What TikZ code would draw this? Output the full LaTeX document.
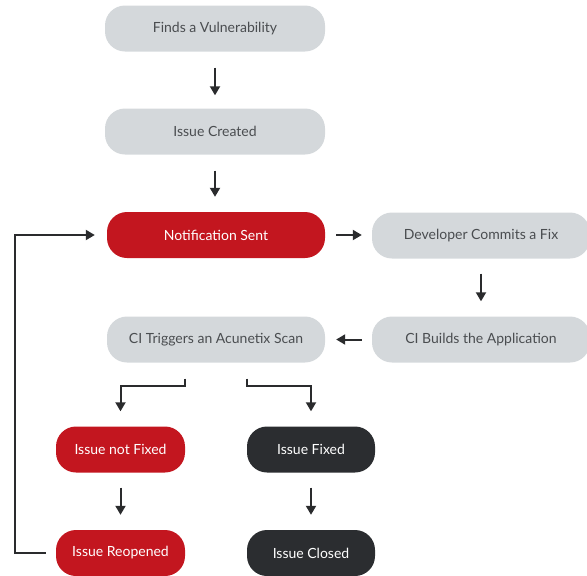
\documentclass[tikz,border=0pt]{standalone}
\usepackage{fontspec}
\setmainfont{Lato}
\usetikzlibrary{arrows.meta}
\definecolor{boxgray}{HTML}{D4D8DB}
\definecolor{txtgray}{HTML}{4A4D50}
\definecolor{boxred}{HTML}{C3161F}
\definecolor{boxdark}{HTML}{2B2D30}
\definecolor{arrowc}{HTML}{2A2B2D}
\tikzset{
  stepgray/.style={fill=boxgray, text=txtgray, rounded corners=20pt, minimum height=46pt, inner sep=0pt, font=\fontsize{14}{16}\selectfont},
  stepred/.style={stepgray, fill=boxred, text=white},
  stepdark/.style={stepgray, fill=boxdark, text=white},
  arr/.style={draw=arrowc, line width=2pt, -{Triangle[length=9pt,width=10pt]}},
}
\begin{document}
\begin{tikzpicture}[x=1pt,y=-1pt]
\useasboundingbox (0,0) rectangle (587,576);
\node[stepgray, minimum width=220pt] (find) at (215,28.5) {Finds a Vulnerability};
\node[stepgray, minimum width=220pt] (created) at (215,131.5) {Issue Created};
\node[stepred, minimum width=218pt] (notif) at (216,235) {Notification Sent};
\node[stepgray, minimum width=218pt] (dev) at (481,235.5) {Developer Commits a Fix};
\node[stepgray, minimum width=218pt] (build) at (481,339.5) {CI Builds the Application};
\node[stepgray, minimum width=218pt] (scan) at (216,339.5) {CI Triggers an Acunetix Scan};
\node[stepred, minimum width=129pt] (notfixed) at (120.5,449.5) {Issue not Fixed};
\node[stepdark, minimum width=128pt] (fixed) at (311,449.5) {Issue Fixed};
\node[stepred, minimum width=129pt] (reopened) at (120.5,553) {Issue Reopened};
\node[stepdark, minimum width=128pt] (closed) at (311,553) {Issue Closed};

\draw[arr, shorten <=16pt, shorten >=13pt] (find) -- (created);
\draw[arr, shorten <=16pt, shorten >=15pt] (created) -- (notif.north -| created);
\draw[arr, shorten <=11pt, shorten >=10pt] (notif) -- (notif -| dev.west);
\draw[arr, shorten <=15pt, shorten >=15pt] (dev.south) -- (build.north);
\draw[arr, shorten <=10pt, shorten >=11pt] (build.west) -- (scan.east);
\draw[arr, shorten >=15pt] ([xshift=-31pt,yshift=-16pt]scan.south) -- ++(0,7) -| (notfixed.north);
\draw[arr, shorten >=15pt] ([xshift=31pt,yshift=-16pt]scan.south) -- ++(0,7) -| (fixed.north);
\draw[arr, shorten <=15pt, shorten >=15pt] (notfixed.south) -- (reopened.north);
\draw[arr, shorten <=15pt, shorten >=15pt] (fixed.south) -- (closed.north);
\draw[arr, shorten <=10pt, shorten >=12pt] (reopened.west) -- ++(-41,0) |- (notif.west);
\end{tikzpicture}
\end{document}
